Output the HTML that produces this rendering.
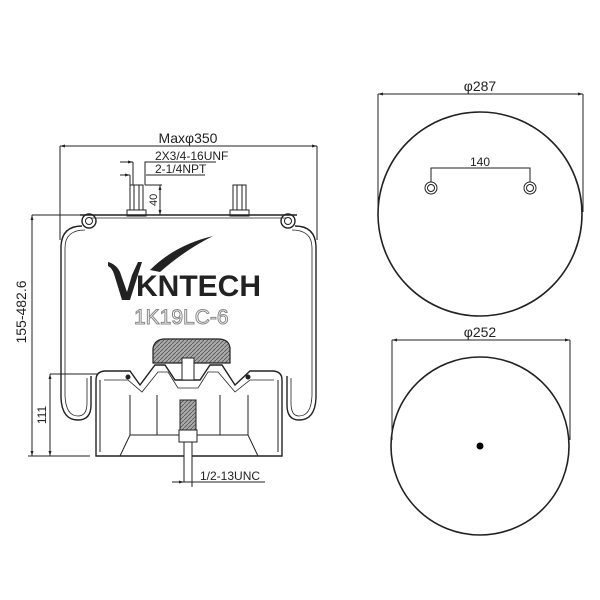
<!DOCTYPE html>
<html><head><style>body{margin:0;background:#fff}svg{display:block}text{font-family:"Liberation Sans",sans-serif;fill:#222}</style></head>
<body>
<svg width="600" height="600" viewBox="0 0 600 600" xmlns="http://www.w3.org/2000/svg">
<defs>
<marker id="a" viewBox="0 0 10 10" refX="10" refY="5" markerWidth="7" markerHeight="5" orient="auto-start-reverse"><path d="M0,2 L10,5 L0,8z" fill="#222"/></marker>
<pattern id="h" width="4" height="4" patternUnits="userSpaceOnUse"><rect width="4" height="4" fill="#aaa"/><path d="M0,4 L4,0" stroke="#555" stroke-width="0.8"/></pattern>
</defs>
<g stroke="#222" fill="none" stroke-width="1">
<line x1="378" y1="94" x2="583" y2="94" marker-start="url(#a)" marker-end="url(#a)"/>
<line x1="378" y1="94" x2="378" y2="212"/><line x1="583" y1="94" x2="583" y2="212"/>
<circle cx="480" cy="214" r="102" stroke-width="1.6"/>
<polyline points="431,182 431,168 530,168 530,182"/>
<circle cx="431" cy="188" r="6"/><circle cx="431" cy="188" r="3.5"/>
<circle cx="530" cy="188" r="6"/><circle cx="530" cy="188" r="3.5"/>
<line x1="392" y1="340" x2="570" y2="340" marker-start="url(#a)" marker-end="url(#a)"/>
<line x1="392" y1="340" x2="392" y2="440"/><line x1="570" y1="340" x2="570" y2="440"/>
<circle cx="480" cy="446" r="89" stroke-width="1.6"/>
<line x1="60" y1="146" x2="317" y2="146" marker-start="url(#a)" marker-end="url(#a)"/>
<line x1="60" y1="146" x2="60" y2="240"/><line x1="317" y1="146" x2="317" y2="240"/>
<line x1="120" y1="162" x2="133" y2="162" marker-end="url(#a)"/><polyline points="133,162 133,185"/><polyline points="145,185 145,162 216,162"/>
<line x1="120" y1="175" x2="130" y2="175" marker-end="url(#a)"/>
<line x1="130" y1="175" x2="130" y2="185"/>
<polyline points="146,175 205,175"/>
<line x1="160" y1="185" x2="160" y2="215" marker-start="url(#a)" marker-end="url(#a)"/>
<line x1="145" y1="185" x2="162" y2="185"/>
<line x1="32" y1="215" x2="32" y2="456" marker-start="url(#a)" marker-end="url(#a)"/>
<line x1="32" y1="215" x2="100" y2="215"/>
<line x1="50" y1="374" x2="50" y2="456" marker-start="url(#a)" marker-end="url(#a)"/>
<line x1="50" y1="374" x2="100" y2="374"/>
<line x1="28" y1="456" x2="90" y2="456"/>
<line x1="172" y1="482" x2="184" y2="482" marker-end="url(#a)"/>
<line x1="192" y1="482" x2="265" y2="482"/>
<line x1="192" y1="460" x2="192" y2="487"/>
<rect x="130" y="185" width="13" height="30" fill="#fff"/><line x1="134" y1="185" x2="134" y2="215"/><line x1="139" y1="185" x2="139" y2="215"/>
<rect x="233" y="185" width="13" height="30" fill="#fff"/><line x1="237" y1="185" x2="237" y2="215"/><line x1="242" y1="185" x2="242" y2="215"/>
<rect x="127" y="210" width="19" height="6" fill="#fff"/><rect x="230" y="210" width="19" height="6" fill="#fff"/>
<line x1="80" y1="215" x2="297" y2="215" stroke-width="1.4"/>
<line x1="90" y1="218" x2="287" y2="218" stroke-width="0.8"/>
<circle cx="89" cy="221" r="7" stroke-width="1.4"/><circle cx="89" cy="221" r="3.5"/><circle cx="288" cy="221" r="7" stroke-width="1.4"/><circle cx="288" cy="221" r="3.5"/>
<path d="M82,226 Q62,226 61,246 L61,398 Q62,420 78,420 Q91,420 91,405 L91,376" stroke-width="1.4"/>
<path d="M85,230 Q65,230 65,248 L65,396 Q66,416 78,416 Q87,416 87,403 L87,378" stroke-width="0.8"/>
<path d="M295,226 Q315,226 316,246 L316,398 Q315,420 299,420 Q287,420 287,405 L287,376" stroke-width="1.4"/>
<path d="M292,230 Q312,230 312,248 L312,396 Q311,416 299,416 Q291,416 291,403 L291,378" stroke-width="0.8"/>
<path d="M96,456 L96,380 Q96,371 106,371 L130,371 L140,385 L155,365 L165,365 L175,380 L200,380 L210,365 L222,365 L235,385 L250,371 L272,371 Q282,371 282,380 L282,456 Z" stroke-width="1.4" fill="#fff"/>
<path d="M100,380 L100,452 M278,380 L278,452"/>
<path d="M96,456 L282,456 M120,456 L130,435 L248,435 L258,456"/>
<path d="M130,395 L130,435 M157,395 L157,435 M220,395 L220,435 M248,395 L248,435"/>
<path d="M104,380 L128,380 L142,392 L158,372 L168,372 L178,388 L198,388 L208,372 L218,372 L235,392 L250,380 L274,380" stroke-width="0.8"/>
<circle cx="128" cy="377" r="2" fill="#222"/><circle cx="248" cy="377" r="2" fill="#222"/>
<path d="M153,363 L153,348 Q155,339 165,339 L218,339 Q229,339 230,348 L230,363 Z" fill="url(#h)" stroke-width="1.2"/>
<rect x="182" y="358" width="12" height="22" fill="#fff"/>
<rect x="180" y="400" width="16" height="34" fill="url(#h)"/>
<rect x="179" y="430" width="18" height="12" fill="#fff"/>
<rect x="184" y="442" width="8" height="40" fill="#fff"/>
</g>
<path d="M150,270 Q175,245 213,236 Q185,250 160,272 Z" fill="#222"/>
<path d="M108,262 Q116,264 120,272 L127,292 L132,275 L138,262 L142,262 L130,300 L122,300 L114,274 Q112,268 108,266Z" fill="#222"/>
<text x="136" y="296" font-size="30" font-weight="bold" style="fill:#222">KNTECH</text>
<text x="134" y="324" font-size="21" style="fill:#fff;stroke:#888;stroke-width:1">1K19LC-6</text>
<text x="188" y="143" font-size="14">
<tspan text-anchor="middle">Maxφ350</tspan></text>
<text x="155" y="160" font-size="12">2X3/4-16UNF</text>
<text x="155" y="173" font-size="12">2-1/4NPT</text>
<text x="0" y="0" font-size="11" transform="translate(157,206) rotate(-90)">40</text>
<text x="0" y="0" font-size="14" text-anchor="middle" transform="translate(26,312) rotate(-90)">155-482.6</text>
<text x="0" y="0" font-size="12" text-anchor="middle" transform="translate(46,415) rotate(-90)">111</text>
<text x="200" y="480" font-size="12">1/2-13UNC</text>
<text x="480" y="91" font-size="14" text-anchor="middle">φ287</text>
<text x="480" y="166" font-size="12" text-anchor="middle">140</text>
<text x="480" y="337" font-size="14" text-anchor="middle">φ252</text>
<circle cx="480" cy="446" r="3.5" fill="#000"/>
</svg>
</body></html>
